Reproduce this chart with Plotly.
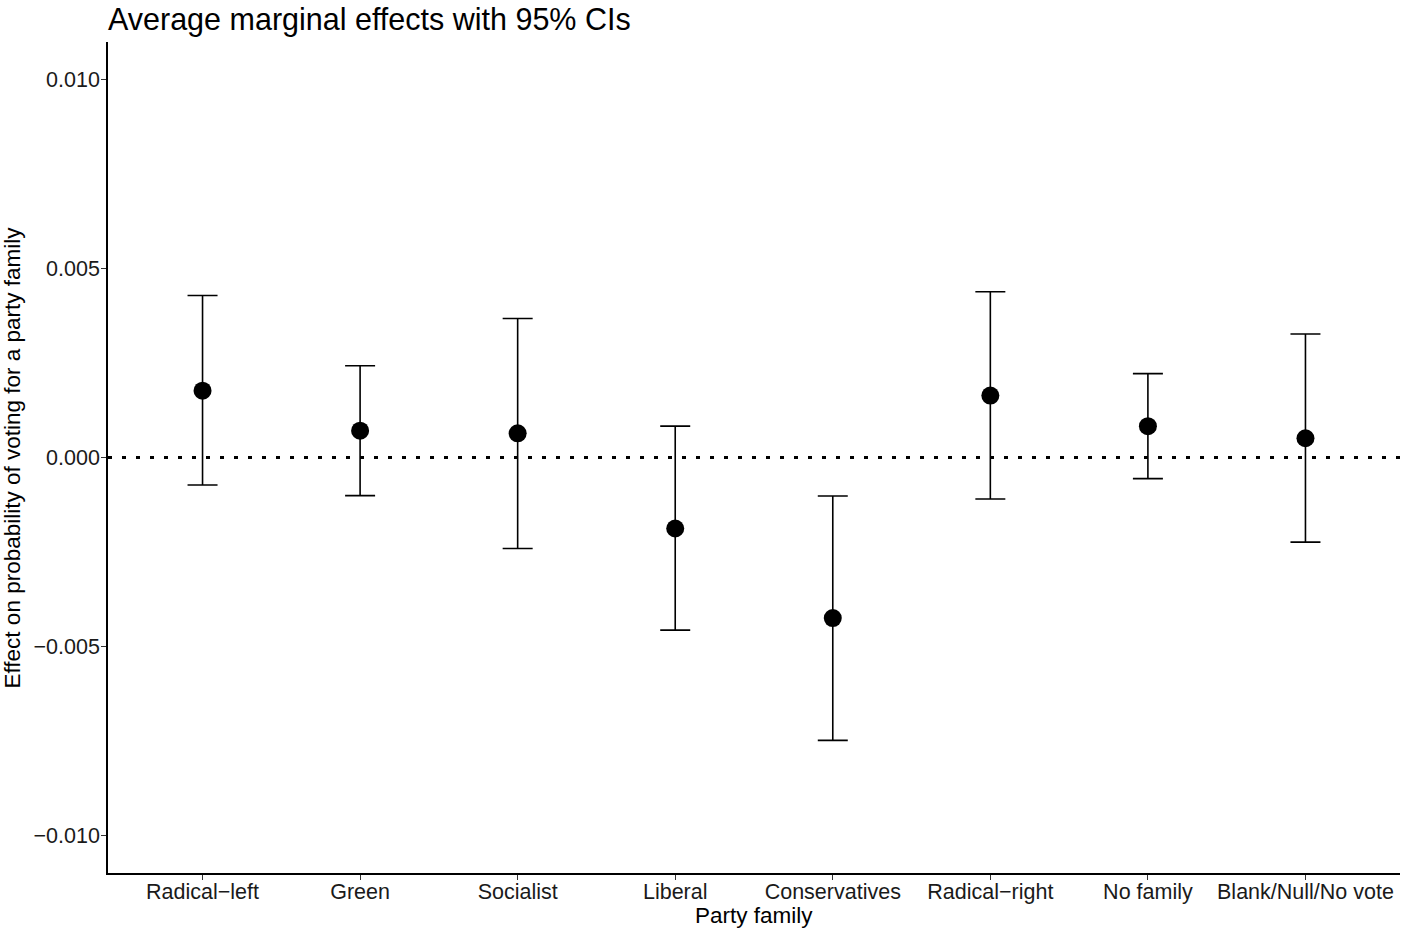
import plotly.graph_objects as go

categories = ["Radical\u2212left", "Green", "Socialist", "Liberal", "Conservatives",
              "Radical\u2212right", "No family", "Blank/Null/No vote"]
estimate = [0.00177, 0.00071, 0.00064, -0.00188, -0.00425, 0.00164, 0.00083, 0.00051]
ci_upper = [0.00429, 0.00243, 0.00368, 0.00083, -0.00102, 0.00439, 0.00222, 0.00327]
ci_lower = [-0.00073, -0.00101, -0.00241, -0.00457, -0.00749, -0.00110, -0.00056, -0.00224]
y_ticks = [-0.010, -0.005, 0.0, 0.005, 0.010]

err_plus = [u - e for u, e in zip(ci_upper, estimate)]
err_minus = [e - l for e, l in zip(estimate, ci_lower)]

font = "Liberation Sans, Arial, sans-serif"
W, H = 1401, 932
ML, MR, MT, MB = 108, 1, 42, 59
PW, PH = W - ML - MR, H - MT - MB

fig = go.Figure()
fig.add_hline(y=0, line=dict(color="black", width=3, dash="4px,10px"), layer="below")
fig.add_trace(go.Scatter(
    x=categories, y=estimate, mode="markers",
    marker=dict(color="black", size=18),
    error_y=dict(type="data", symmetric=False, array=err_plus, arrayminus=err_minus,
                 color="black", thickness=1.6, width=15),
    showlegend=False,
))

fig.update_layout(
    width=W, height=H,
    margin=dict(l=ML, r=MR, t=MT, b=MB),
    paper_bgcolor="white", plot_bgcolor="white",
    font=dict(family=font, color="black", size=22),
    title=dict(text="Average marginal effects with 95% CIs", x=ML / W, xanchor="left",
               yref="container", y=1 - 9 / H, yanchor="top",
               font=dict(size=30.5, family=font, color="black")),
    annotations=[
        dict(text="Party family", xref="paper", yref="paper",
             x=0.5, y=-(916 - 873) / PH, xanchor="center", yanchor="middle",
             showarrow=False, font=dict(size=22.5, family=font, color="black")),
        dict(text="Effect on probability of voting for a party family", xref="paper", yref="paper",
             x=(12 - ML) / PW, y=0.5, xanchor="center", yanchor="middle", textangle=-90,
             showarrow=False, font=dict(size=22.5, family=font, color="black")),
    ],
)
fig.update_xaxes(
    range=[-0.6, 7.6], showline=True, linecolor="black", linewidth=1.6,
    ticks="outside", ticklen=5, tickcolor="#333333", tickwidth=1,
    showgrid=False, zeroline=False, tickfont=dict(size=21.5, color="#1a1a1a"),
    ticklabelstandoff=-7,
)
fig.update_yaxes(
    range=[-0.011, 0.011], tickvals=y_ticks, tickformat=".3f",
    showline=True, linecolor="black", linewidth=1.6,
    ticks="outside", ticklen=5, tickcolor="#333333", tickwidth=1,
    showgrid=False, zeroline=False, tickfont=dict(size=21.5, color="#1a1a1a"),
    ticklabelstandoff=-3,
)

fig.write_html("out.html", config={"displayModeBar": False},
               post_script="document.body.style.margin='0px';")
